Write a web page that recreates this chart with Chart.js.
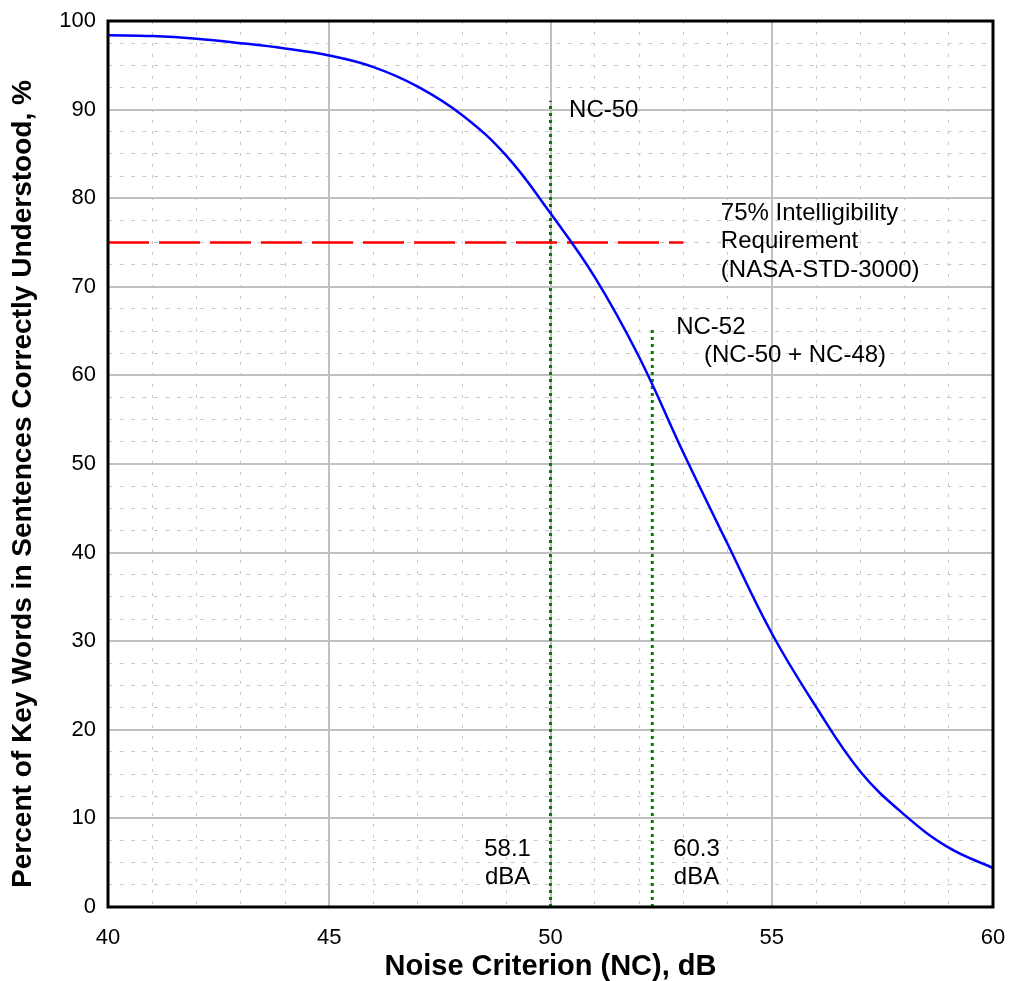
<!DOCTYPE html>
<html>
<head>
<meta charset="utf-8">
<script src="https://cdn.jsdelivr.net/npm/chart.js@4"></script>
<style>
  html, body { margin: 0; padding: 0; background: #ffffff; }
  #wrap { width: 1012px; height: 981px; position: relative; }
</style>
</head>
<body>
<div id="wrap"><canvas id="c" width="1012" height="981"></canvas></div>
<script>
// ---- data ----
const ncLevels = [40, 41, 42, 43, 44, 45, 46, 47, 48, 49, 50, 51, 52, 53, 54, 55, 56, 57, 58, 59, 60];
const intelligibility = [98.4, 98.3, 98.0, 97.5, 96.9, 96.1, 94.8, 92.6, 89.4, 84.8, 78.3, 71.1, 62.1, 51.3, 41.0, 30.9, 22.6, 15.3, 10.4, 6.7, 4.4];

const requirementX = [40, 53];
const requirementY = [75, 75];

const nc50X = [50, 50];
const nc50Y = [0, 91];
const nc52X = [52.3, 52.3];
const nc52Y = [0, 65.5];

const xTicks = [40, 45, 50, 55, 60];
const yTicks = [0, 10, 20, 30, 40, 50, 60, 70, 80, 90, 100];

const xTitle = 'Noise Criterion (NC), dB';
const yTitle = 'Percent of Key Words in Sentences Correctly Understood, %';

// annotation texts, anchored in data coordinates
const noteTexts = ['NC-50', '75% Intelligibility', 'Requirement', '(NASA-STD-3000)', 'NC-52', '(NC-50 + NC-48)', '58.1', 'dBA', '60.3', 'dBA'];
const noteX = [50.42, 53.85, 53.85, 53.85, 52.84, 53.47, 49.03, 49.03, 53.30, 53.30];
const noteY = [89.9, 78.3, 75.1, 71.8, 65.4, 62.3, 6.5, 3.4, 6.5, 3.4];
const noteAlign = ['left', 'left', 'left', 'left', 'left', 'left', 'center', 'center', 'center', 'center'];

// ---- helpers ----
const zip = (xs, ys) => xs.map((x, i) => ({ x: x, y: ys[i] }));
const FONT = '"Liberation Sans", Arial, Helvetica, sans-serif';

const frameAndNotes = {
  id: 'frameAndNotes',
  afterDatasetsDraw(chart) {
    const ctx = chart.ctx;
    const xs = chart.scales.x, ys = chart.scales.y;
    ctx.save();
    ctx.fillStyle = '#000';
    ctx.font = '24px ' + FONT;
    ctx.textBaseline = 'middle';
    noteTexts.forEach((t, i) => {
      ctx.textAlign = noteAlign[i];
      ctx.fillText(t, xs.getPixelForValue(noteX[i]), ys.getPixelForValue(noteY[i]));
    });
    ctx.restore();
  },
  afterDraw(chart) {
    const ctx = chart.ctx;
    const a = chart.chartArea;
    ctx.save();
    ctx.strokeStyle = '#000';
    ctx.lineWidth = 3;
    ctx.strokeRect(a.left, a.top, a.right - a.left, a.bottom - a.top);
    // condensed bold y-axis title
    ctx.translate(23, 484);
    ctx.rotate(-Math.PI / 2);
    ctx.font = 'bold 28px ' + FONT;
    const w = ctx.measureText(yTitle).width;
    const target = 808;
    ctx.scale(target / w, 1);
    ctx.textAlign = 'center';
    ctx.textBaseline = 'middle';
    ctx.fillStyle = '#000';
    ctx.fillText(yTitle, 0, 0);
    ctx.restore();
  }
};

const noPad = s => { s.paddingLeft = 0; s.paddingRight = 0; s.paddingTop = 0; s.paddingBottom = 0; };

new Chart(document.getElementById('c'), {
  type: 'line',
  data: {
    datasets: [
      {
        label: 'Intelligibility',
        data: zip(ncLevels, intelligibility),
        borderColor: '#0000ff',
        borderWidth: 2.5,
        pointRadius: 0,
        tension: 0.4,
        fill: false
      },
      {
        label: '75% requirement',
        data: zip(requirementX, requirementY),
        borderColor: '#ff0000',
        borderWidth: 2.5,
        borderDash: [41, 10],
        pointRadius: 0,
        fill: false
      },
      {
        label: 'NC-50',
        data: zip(nc50X, nc50Y),
        borderColor: '#008000',
        borderWidth: 3,
        borderDash: [3, 4],
        pointRadius: 0,
        fill: false
      },
      {
        label: 'NC-52',
        data: zip(nc52X, nc52Y),
        borderColor: '#008000',
        borderWidth: 3,
        borderDash: [3, 4],
        pointRadius: 0,
        fill: false
      }
    ]
  },
  options: {
    responsive: false,
    animation: false,
    devicePixelRatio: 1,
    layout: { padding: { top: 21, right: 19, left: 0, bottom: 0 } },
    plugins: { legend: { display: false }, tooltip: { enabled: false } },
    scales: {
      xMinor: {
        type: 'linear', position: 'bottom', min: 40, max: 60,
        ticks: { display: false, stepSize: 1 },
        grid: { color: '#c8c8c8', lineWidth: 1, drawTicks: false },
        border: { display: false, dash: [3, 8] },
        afterFit: s => { s.height = 0; noPad(s); }
      },
      yMinor: {
        type: 'linear', position: 'left', min: 0, max: 100,
        ticks: { display: false, stepSize: 2.5 },
        grid: { color: '#c8c8c8', lineWidth: 1, drawTicks: false },
        border: { display: false, dash: [4, 7.5] },
        afterFit: s => { s.width = 0; noPad(s); }
      },
      x: {
        type: 'linear', position: 'bottom', min: 40, max: 60,
        afterBuildTicks: s => { s.ticks = xTicks.map(v => ({ value: v })); },
        ticks: { color: '#000', font: { family: FONT, size: 22 }, padding: 18, maxRotation: 0 },
        grid: { color: '#c0c0c0', lineWidth: 2, drawTicks: false },
        border: { display: false },
        title: { display: true, text: xTitle, color: '#000', font: { family: FONT, size: 29, weight: 'bold', lineHeight: 1.0 }, padding: { top: 0, bottom: 0 } },
        afterFit: s => { s.height = 74; noPad(s); }
      },
      y: {
        type: 'linear', position: 'left', min: 0, max: 100,
        afterBuildTicks: s => { s.ticks = yTicks.map(v => ({ value: v })); },
        ticks: { color: '#000', font: { family: FONT, size: 22 }, padding: 12 },
        grid: { color: '#c0c0c0', lineWidth: 2, drawTicks: false },
        border: { display: false },
        afterFit: s => { s.width = 108; noPad(s); }
      }
    }
  },
  plugins: [frameAndNotes]
});
</script>
</body>
</html>
